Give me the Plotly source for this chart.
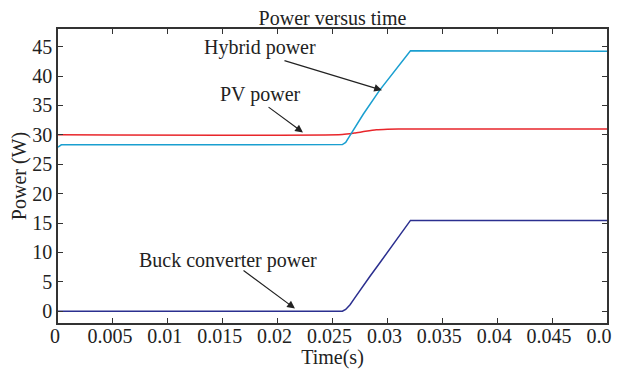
import plotly.graph_objects as go

# Data
hybrid_t = [0.0, 0.0003, 0.0259, 0.0262, 0.0266, 0.0278, 0.0293, 0.0308, 0.0321, 0.05]
hybrid_p = [27.9, 28.3, 28.35, 28.7, 29.9, 33.5, 37.6, 41.3, 44.3, 44.2]

pv_t = [0.0, 0.0259, 0.0270, 0.0280, 0.0290, 0.0300, 0.0310, 0.05]
pv_p = [30.0, 30.05, 30.3, 30.6, 30.85, 30.95, 31.0, 31.0]

buck_t = [0.0, 0.0259, 0.0262, 0.0266, 0.0270, 0.0275, 0.0284, 0.0293, 0.0302, 0.0312, 0.0321, 0.05]
buck_p = [0.0, 0.0, 0.3, 1.1, 2.2, 3.6, 5.9, 8.2, 10.5, 13.0, 15.45, 15.45]

x_ticks = [0, 0.005, 0.01, 0.015, 0.02, 0.025, 0.03, 0.035, 0.04, 0.045, 0.05]
x_tick_labels = ["0", "0.005", "0.01", "0.015", "0.02", "0.025", "0.03", "0.035", "0.04", "0.045", "0.05"]
y_ticks = [0, 5, 10, 15, 20, 25, 30, 35, 40, 45]

# Annotations: (label, text_x, text_y, tail_x, tail_y, head_x, head_y)
labels = [
    ("Hybrid power", 0.01842, 44.9, 0.02049, 42.7, 0.02951, 37.6),
    ("PV power", 0.01840, 36.9, 0.01904, 34.9, 0.02231, 30.4),
    ("Buck converter power", 0.01549, 8.6, 0.01676, 7.1, 0.02158, 0.45),
]

FONT = "Liberation Serif"
FS = 20

fig = go.Figure()
fig.add_trace(go.Scatter(x=pv_t, y=pv_p, mode="lines", line=dict(color="#e8262b", width=1.5, shape="spline", smoothing=0.6), name="PV power"))
fig.add_trace(go.Scatter(x=hybrid_t, y=hybrid_p, mode="lines", line=dict(color="#1a9fd0", width=1.5), name="Hybrid power"))
fig.add_trace(go.Scatter(x=buck_t, y=buck_p, mode="lines", line=dict(color="#2b2f8f", width=1.5), name="Buck converter power"))

for text, tx, ty, ax, ay, hx, hy in labels:
    fig.add_annotation(x=tx, y=ty, text=text, showarrow=False, xref="x", yref="y",
                       font=dict(family=FONT, size=FS, color="#222"))
    fig.add_annotation(x=hx, y=hy, ax=ax, ay=ay, xref="x", yref="y", axref="x", ayref="y",
                       text="", showarrow=True, arrowhead=2, arrowsize=1.3, arrowwidth=1.2,
                       arrowcolor="#222")

axis_common = dict(showgrid=False, zeroline=False, showline=True, linecolor="#333", linewidth=1.5,
                   mirror="ticks", ticks="inside", ticklen=5, tickwidth=1, tickcolor="#333",
                   automargin=False,
                   tickfont=dict(family=FONT, size=FS, color="#222"))

# The page body has an 8px margin, so the figure is placed to compensate.
fig.update_layout(
    width=620, height=361,
    margin=dict(l=50, r=21, t=21, b=46),
    paper_bgcolor="white", plot_bgcolor="white",
    showlegend=False,
    title=dict(text="Power versus time", x=0.5, xref="paper", xanchor="center",
               y=1 - 10 / 361, yref="container", yanchor="middle",
               automargin=False,
               font=dict(family=FONT, size=FS, color="#222")),
    xaxis=dict(range=[0, 0.0500001], tickvals=x_ticks, ticktext=x_tick_labels,
               ticklabelstandoff=-6, ticklabelshift=-3, ticklabeloverflow="allow",
               title=dict(text="Time(s)", standoff=0, font=dict(family=FONT, size=FS, color="#222")),
               **axis_common),
    yaxis=dict(range=[-2, 48], tickvals=y_ticks,
               title=dict(text="Power (W)", standoff=1, font=dict(family=FONT, size=FS, color="#222")),
               **axis_common),
)

fig.write_html("out.html")
